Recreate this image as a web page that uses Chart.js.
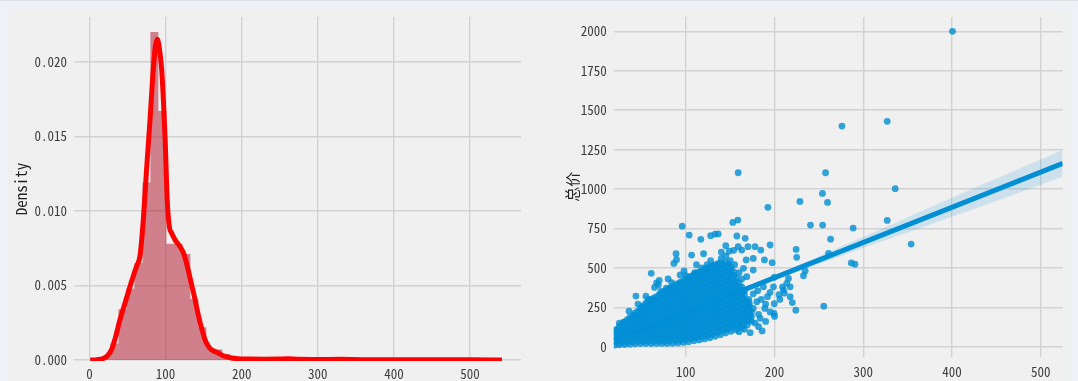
<!DOCTYPE html>
<html><head><meta charset="utf-8">
<script src="https://cdn.jsdelivr.net/npm/chart.js@4.4.0/dist/chart.umd.min.js"></script>
<style>
html,body{margin:0;padding:0;background:#eef1f5;width:1078px;height:381px;overflow:hidden;}
#topline{position:absolute;left:0;top:0;width:1078px;height:1px;background:#dde0e4;}
#fig{position:absolute;left:8px;top:10px;width:1062px;height:371px;background:#f0f0f0;}
canvas{position:absolute;top:0;}
#c1{left:0;} #c2{left:540px;}
</style></head><body>
<div id="topline"></div><div id="fig"></div>
<canvas id="c1" width="540" height="381"></canvas>
<canvas id="c2" width="538" height="381"></canvas>
<script>
// ---------- Left panel: histogram + KDE ----------
const binEdges = [17, 27.5, 38, 48.5, 59, 69.5, 80, 90.5, 101, 111.5, 122, 132.5, 143, 153.5, 164, 174.5, 185, 195.5, 206, 216.5, 227, 237.5, 248, 258.5, 269, 279.5, 290, 300.5, 311, 321.5, 332, 342.5];
const binDensity = [0.0002, 0.0011, 0.0034, 0.0048, 0.0065, 0.0119, 0.0220, 0.0167, 0.0078, 0.0078, 0.0071, 0.0041, 0.0022, 0.0008, 0.0007, 0.0004, 0.0002, 0.0001, 0.00007, 0.00006, 0.00005, 0.00004, 0.00008, 0.00003, 0.00003, 0.00002, 0.00003, 0.00002, 0.00001, 0.00003, 0.00001, 0];
const kdeX = [1, 10, 18, 24, 29, 34, 40, 46, 53, 58, 62, 66.4, 70.7, 75, 79.5, 83.8, 86.5, 89, 91.5, 94.8, 97, 99.2, 102.3, 105, 108, 113, 119, 124, 128, 133, 138, 143, 148, 153, 158, 163, 168, 175, 185, 195, 210, 230, 250, 260, 275, 300, 330, 360, 400, 450, 500, 542];
const kdeY = [0, 0.00002, 0.0001, 0.0003, 0.0007, 0.0015, 0.0027, 0.0037, 0.0049, 0.0057, 0.0063, 0.0070, 0.0094, 0.0128, 0.0161, 0.0195, 0.0210, 0.0215, 0.0210, 0.0195, 0.0175, 0.0150, 0.0105, 0.0089, 0.0085, 0.0080, 0.0076, 0.0071, 0.0064, 0.0053, 0.0042, 0.0030, 0.0020, 0.0012, 0.0008, 0.0006, 0.0005, 0.0003, 0.00015, 0.00008, 0.00006, 0.00005, 0.00006, 0.00008, 0.00004, 0.00003, 0.00004, 0.00002, 0.00002, 0.00001, 0.00001, 0];
const leftXTicks = [0, 100, 200, 300, 400, 500];
const leftYTicks = [0, 0.005, 0.010, 0.015, 0.020];

// ---------- Right panel: regplot 面积 vs 总价 ----------
const outlierX = [400.6, 327, 276, 159, 257.5, 336, 254, 259.7, 228.6, 192.5, 327, 354, 288.6, 263.2, 240.5, 254.2, 286.5, 290.6, 255.5, 224, 200, 199.7, 153, 158.6, 157.5, 166.9, 95.9, 103.8, 116.9, 128, 133, 136.5, 106.5, 89, 89.5, 86.5, 61, 43.7, 195, 178, 184.5, 188.6, 197.3, 168, 176, 149, 154, 163, 159, 170, 165, 168.7, 176, 199.5, 198.8, 192, 189, 183.8, 172.5, 182, 172.5, 176, 180, 187.5, 213.8, 217.6, 209, 217.6, 199.5, 224.3, 225, 232.6, 234.5, 260.8, 215.7, 64.7, 67, 69, 84, 93.6, 20.4, 30, 50, 46, 58, 72, 78, 100, 110, 118, 124, 140, 145, 150, 155, 160, 163, 171, 176, 181, 185, 190, 195, 205, 210, 182, 190, 195, 178, 186, 166, 160, 206, 211, 220, 128, 112, 98, 120, 140, 145, 80, 70, 55, 36, 25];
const outlierY = [2000, 1429, 1399, 1103, 1103, 1002, 972, 915, 921, 884, 801, 651, 752, 682, 771, 771, 531, 523, 257, 231, 192, 273, 788, 803, 702, 687, 764, 708, 681, 704, 714, 715, 581, 590, 552, 528, 465, 321, 645, 634, 613, 550, 533, 550, 560, 606, 611, 613, 634, 634, 497, 444, 486, 440, 380, 317, 243, 180, 89, 127, 190, 243, 285, 380, 402, 317, 380, 380, 211, 617, 567, 450, 480, 592, 433, 376, 405, 390, 406, 455, 106, 155, 250, 270, 300, 350, 372, 450, 470, 500, 520, 560, 575, 545, 520, 470, 430, 300, 335, 355, 300, 270, 345, 330, 360, 205, 160, 220, 150, 100, 110, 95, 300, 340, 280, 545, 520, 480, 590, 600, 640, 430, 420, 320, 225, 150];
const denseX = [20, 25, 31, 37, 43, 49, 55, 61, 67, 73, 79, 85, 91, 97, 103, 109, 115, 121, 127, 133, 139, 145, 151, 157, 163, 169, 174];
const denseY = [
  [10, 38, 66, 94],
  [12, 42, 71, 101, 128],
  [14, 45, 74, 103, 133, 158],
  [16, 46, 77, 106, 135, 165, 186],
  [18, 49, 78, 107, 139, 168, 195, 214],
  [20, 50, 81, 110, 141, 170, 199, 228, 242],
  [20, 51, 80, 111, 140, 171, 200, 231, 258, 276],
  [20, 49, 80, 109, 140, 169, 201, 229, 260, 284, 300],
  [21, 52, 81, 112, 141, 170, 202, 231, 262, 291, 318],
  [21, 50, 82, 111, 142, 172, 200, 232, 261, 292, 318, 340],
  [21, 52, 81, 112, 141, 173, 201, 232, 260, 292, 321, 345, 360],
  [22, 51, 83, 112, 143, 171, 203, 232, 263, 292, 323, 352, 380],
  [24, 55, 84, 115, 144, 175, 204, 235, 264, 295, 324, 355, 384, 400],
  [27, 56, 88, 117, 148, 177, 208, 237, 268, 297, 328, 357, 388, 418],
  [31, 62, 91, 122, 151, 182, 211, 242, 271, 302, 331, 362, 391, 421, 440],
  [37, 66, 98, 127, 158, 187, 218, 247, 278, 307, 338, 367, 398, 427, 455],
  [43, 74, 103, 134, 163, 194, 223, 254, 283, 314, 343, 374, 403, 434, 463, 475],
  [49, 78, 110, 139, 170, 199, 230, 259, 290, 319, 350, 379, 410, 439, 470, 492],
  [57, 88, 117, 148, 177, 208, 237, 268, 297, 328, 357, 388, 417, 448, 477, 505],
  [66, 95, 127, 156, 187, 216, 247, 276, 307, 336, 367, 396, 427, 456, 487, 518],
  [76, 107, 136, 167, 196, 227, 256, 287, 316, 347, 376, 407, 436, 467, 496, 532],
  [88, 117, 149, 178, 209, 238, 269, 298, 329, 358, 389, 418, 449, 478, 508, 534],
  [98, 129, 158, 189, 218, 249, 278, 309, 338, 369, 398, 429, 458, 488, 505],
  [108, 137, 169, 198, 229, 258, 289, 318, 349, 378, 409, 440],
  [120, 151, 180, 211, 240, 271, 300, 331, 360, 380],
  [138, 167, 199, 228, 259, 288],
  [160, 191, 220]
];
const denseX2 = [22.5, 28, 34, 40, 46, 52, 58, 64, 70, 76, 82, 88, 94, 100, 106, 112, 118, 124, 130, 136, 142, 148, 154, 160, 166, 171.5];
const denseY2 = [
  [24, 52, 80, 108],
  [27, 57, 87, 116, 143],
  [30, 60, 89, 119, 148, 172],
  [32, 62, 92, 121, 151, 178, 198],
  [34, 64, 94, 124, 154, 183, 210, 226],
  [35, 66, 95, 126, 155, 186, 215, 242, 260],
  [35, 65, 95, 126, 155, 186, 216, 246, 270, 290],
  [35, 66, 95, 126, 155, 186, 216, 246, 276, 298, 310],
  [36, 66, 96, 127, 156, 187, 217, 247, 277, 306, 330],
  [36, 67, 96, 127, 157, 187, 216, 247, 277, 307, 334, 352],
  [37, 67, 97, 127, 157, 188, 217, 247, 277, 307, 337, 366, 372],
  [38, 69, 98, 130, 159, 190, 219, 250, 279, 309, 339, 370, 392],
  [41, 70, 101, 131, 161, 191, 221, 251, 281, 311, 341, 371, 401, 410],
  [45, 74, 105, 135, 165, 195, 225, 255, 285, 315, 345, 375, 405, 430],
  [50, 80, 111, 141, 171, 201, 231, 261, 291, 321, 351, 381, 411, 440, 448],
  [56, 86, 117, 147, 177, 207, 237, 267, 297, 327, 357, 387, 417, 447, 466],
  [62, 92, 123, 153, 183, 213, 243, 273, 303, 333, 363, 393, 423, 453, 481],
  [70, 100, 131, 161, 191, 221, 251, 281, 311, 341, 371, 401, 431, 461, 490, 500],
  [80, 110, 141, 171, 201, 231, 261, 291, 321, 351, 381, 411, 441, 471, 500, 512],
  [90, 120, 151, 181, 211, 241, 271, 301, 331, 361, 391, 421, 451, 481, 510, 526],
  [102, 132, 163, 193, 223, 253, 283, 313, 343, 373, 403, 433, 463, 493, 520],
  [112, 142, 173, 203, 233, 263, 293, 323, 353, 383, 413, 443, 473, 500, 522],
  [122, 152, 183, 213, 243, 273, 303, 333, 363, 393, 423, 453, 475],
  [135, 165, 195, 225, 255, 285, 315, 345, 375, 405],
  [150, 180, 210, 240, 270, 300, 330, 350],
  [170, 200, 230, 260, 275]
];
const regX = [18.8, 525];
const regY = [34, 1163];
const ciX = [18.8, 60, 100, 150, 200, 250, 300, 350, 400, 450, 525];
const ciUpper = [45, 130, 219, 331, 452, 573, 697, 820, 944, 1066, 1248];
const ciLower = [27, 118, 211, 317, 424, 525, 625, 724, 824, 924, 1078];
const rightXTicks = [100, 200, 300, 400, 500];
const rightYTicks = [0, 250, 500, 750, 1000, 1250, 1500, 1750, 2000];

// ---------- shared style ----------
const tickFont = { family: "'Noto Sans Mono CJK SC', 'DejaVu Sans Mono', monospace", size: 13 };
const tickColor = '#3c3c3c';
const gridStyle = { color: '#d2d2d2', lineWidth: 1.4, drawTicks: false };
const blue = '#008fd5';
const pts = (xs, ys) => xs.map((x, i) => ({ x: x, y: ys[i] }));
const setTicks = vals => (s => { s.ticks = vals.map(v => ({ value: v })); });

// ---------- Left chart ----------
new Chart(document.getElementById('c1'), {
  type: 'line',
  data: {
    datasets: [
      { data: pts(kdeX, kdeY), borderColor: '#ff0000', borderWidth: 5,
        pointRadius: 0, cubicInterpolationMode: 'monotone', fill: false, clip: 0 },
      { data: pts(binEdges, binDensity), stepped: 'before', borderWidth: 0, pointRadius: 0,
        backgroundColor: 'rgba(176,16,36,0.5)', fill: 'origin' }
    ]
  },
  options: {
    responsive: false, animation: false, devicePixelRatio: 1,
    layout: { padding: { left: 0, top: 17, right: 19, bottom: 0 } },
    plugins: { legend: { display: false }, tooltip: { enabled: false } },
    scales: {
      x: { type: 'linear', min: -20.4, max: 567, offset: false,
        grid: gridStyle, border: { display: false },
        afterBuildTicks: setTicks(leftXTicks),
        afterFit: s => { s.height = 20; },
        ticks: { font: tickFont, color: tickColor, padding: 5, maxRotation: 0, callback: v => String(v) } },
      y: { type: 'linear', min: -0.00007, max: 0.0230,
        grid: gridStyle, border: { display: false },
        afterBuildTicks: setTicks(leftYTicks),
        afterFit: s => { s.width = 74; },
        ticks: { font: tickFont, color: tickColor, padding: 7, callback: v => v.toFixed(3) },
        title: { display: true, text: 'Density', color: '#222',
          font: { family: "'Noto Sans Mono CJK SC', 'DejaVu Sans Mono', monospace", size: 15 },
          padding: { top: 12.5, bottom: 0 } } }
    }
  }
});

// ---------- Right chart ----------
const scatterPts = pts(outlierX, outlierY);
denseX.forEach((x, i) => denseY[i].forEach(y => scatterPts.push({ x: x, y: y })));
denseX2.forEach((x, i) => denseY2[i].forEach(y => scatterPts.push({ x: x, y: y })));

new Chart(document.getElementById('c2'), {
  type: 'scatter',
  data: {
    datasets: [
      { type: 'line', data: pts(regX, regY), borderColor: blue, borderWidth: 5,
        pointRadius: 0, fill: false },
      { type: 'line', data: pts(ciX, ciUpper), borderWidth: 0, pointRadius: 0,
        fill: '+1', backgroundColor: 'rgba(0,143,213,0.15)', tension: 0.3 },
      { type: 'line', data: pts(ciX, ciLower), borderWidth: 0, pointRadius: 0, fill: false, tension: 0.3 },
      { type: 'scatter', data: scatterPts, backgroundColor: 'rgba(0,143,213,0.8)',
        borderWidth: 0, pointRadius: 3.4 }
    ]
  },
  options: {
    responsive: false, animation: false, devicePixelRatio: 1,
    layout: { padding: { left: 0, top: 17, right: 15.4, bottom: 0 } },
    plugins: { legend: { display: false }, tooltip: { enabled: false } },
    scales: {
      x: { type: 'linear', min: 18.8, max: 524.7,
        grid: gridStyle, border: { display: false },
        afterBuildTicks: setTicks(rightXTicks),
        afterFit: s => { s.height = 24.3; },
        ticks: { font: tickFont, color: tickColor, padding: 8, maxRotation: 0, callback: v => String(v) } },
      y: { type: 'linear', min: -63.4, max: 2090.7,
        grid: gridStyle, border: { display: false },
        afterBuildTicks: setTicks(rightYTicks),
        afterFit: s => { s.width = 73.8; },
        ticks: { font: tickFont, color: tickColor, padding: 7, callback: v => String(v) },
        title: { display: true, text: '总价', color: '#222',
          font: { family: "'Noto Sans CJK SC', sans-serif", size: 15 },
          padding: { top: 23.6, bottom: 0 } } }
    }
  }
});
</script></body></html>
